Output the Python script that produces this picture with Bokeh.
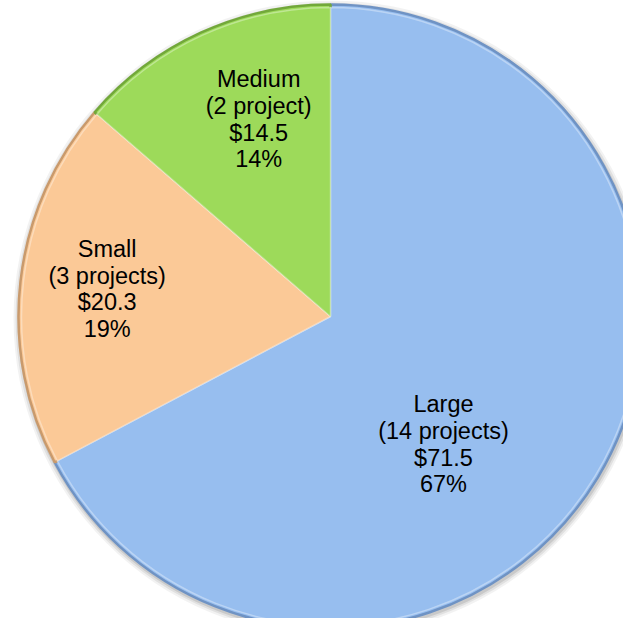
import numpy as np
from bokeh.plotting import figure
from bokeh.models import Range1d, ColumnDataSource
from bokeh.core.properties import value
from bokeh.embed import file_html
from bokeh.resources import INLINE

# ---- data ----
categories = ["Large", "Small", "Medium"]
project_labels = ["(14 projects)", "(3 projects)", "(2 project)"]
amounts = [71.5, 20.3, 14.5]
percent_labels = ["67%", "19%", "14%"]
colors = ["#97BEEF", "#FBC997", "#9DDA5A"]
edge_colors = ["#6F93C4", "#C99A6C", "#72A83A"]

# ---- layout constants ----
W, H = 623, 618
cx, cy = 330, 302          # pie centre (data units == pixels)
R = 312
# label placement: (angle in degrees, distance from centre) per slice
label_polar = [(-48.5, 170.5), (173.0, 225), (110.0, 210)]

vals = np.array(amounts, dtype=float)
frac = vals / vals.sum()
# start at 12 o'clock and go clockwise
ends = np.pi / 2 - np.cumsum(frac) * 2 * np.pi
starts = np.concatenate([[np.pi / 2], ends[:-1]])

p = figure(width=W, height=H, output_backend="svg", toolbar_location=None,
           x_range=Range1d(0, W), y_range=Range1d(0, H),
           min_border=0, outline_line_color=None)
p.axis.visible = False
p.grid.visible = False
p.background_fill_color = "white"
p.border_fill_color = "white"

# soft shadow
for k, a in [(6, 0.05), (4, 0.07), (2, 0.10)]:
    p.annular_wedge(x=cx + 1, y=cy - 2, inner_radius=R - 2, outer_radius=R + k,
                    start_angle=0, end_angle=2 * np.pi,
                    fill_color="black", fill_alpha=a, line_color=None)

src = ColumnDataSource(dict(start=ends, end=starts, color=colors, edge=edge_colors))
# wedges drawn anticlockwise from end (smaller angle) to start
p.wedge(x=cx, y=cy, radius=R, start_angle="start", end_angle="end",
        fill_color="color", line_color="edge", line_width=2.5, source=src)
# inner light bevel
p.wedge(x=cx, y=cy, radius=R - 3, start_angle="start", end_angle="end",
        fill_color="color", line_color="white", line_alpha=0.35, line_width=1.5,
        source=src)

texts = [f"{c}\n{pl}\n${a:.1f}\n{pc}" for c, pl, a, pc in
         zip(categories, project_labels, amounts, percent_labels)]
lx = [cx + d * np.cos(np.radians(t)) for t, d in label_polar]
ly = [cy + d * np.sin(np.radians(t)) for t, d in label_polar]
p.text(x=lx, y=ly, text=texts, text_align="center", text_baseline="middle",
       text_font=value("Liberation Sans"), text_font_size="23.5px",
       text_line_height=1.03, text_color="black")

open("out.html", "w").write(file_html(p, INLINE))
